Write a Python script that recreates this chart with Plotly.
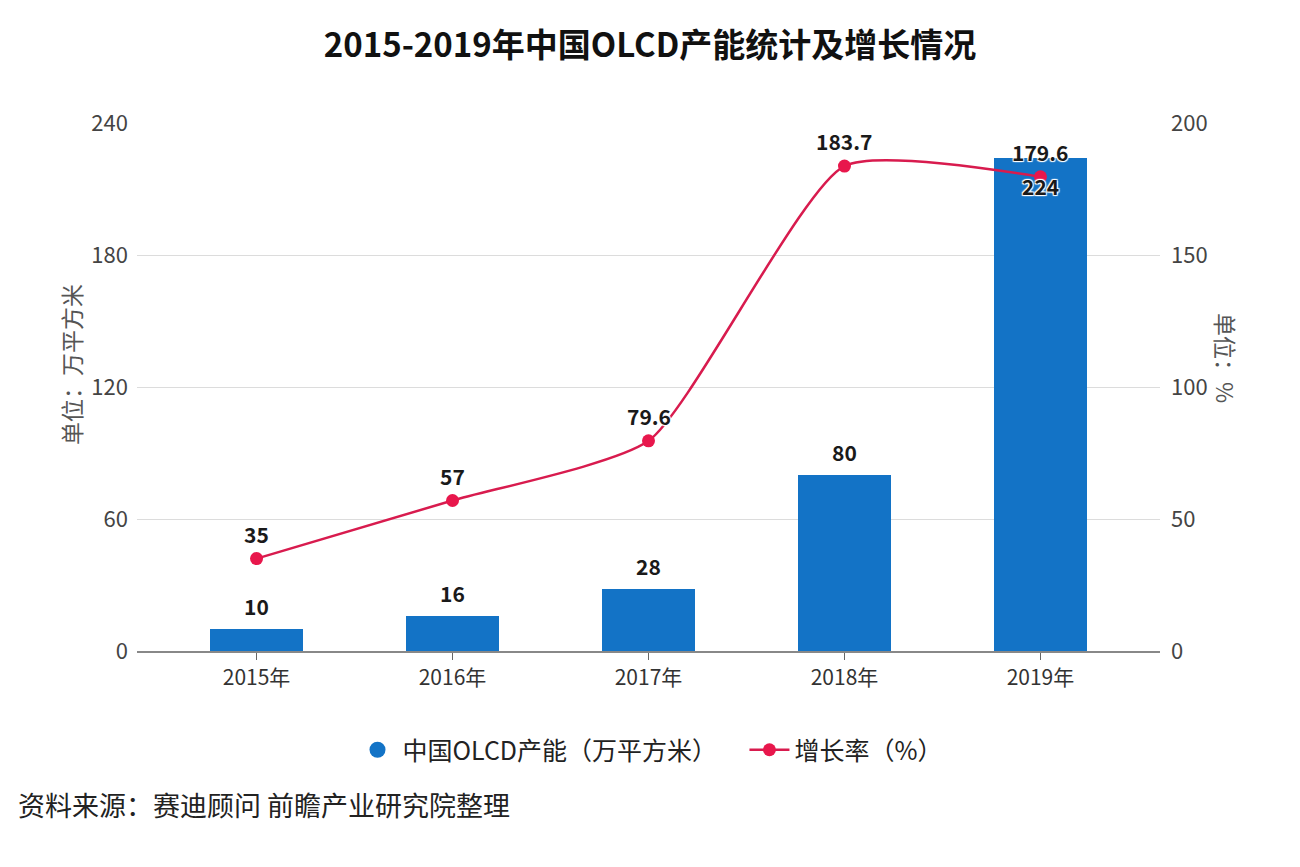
import plotly.graph_objects as go

years = ["2015年", "2016年", "2017年", "2018年", "2019年"]
capacity = [10, 16, 28, 80, 224]
growth = [35, 57, 79.6, 183.7, 179.6]
capacity_labels = ["10", "16", "28", "80", "224"]
growth_labels = ["35", "57", "79.6", "183.7", "179.6"]

BLUE = "#1373C6"
RED = "#D81B4E"
FONT = "Noto Sans CJK SC"
HALO = "1px 1px 1px #fff, -1px -1px 1px #fff, 1px -1px 1px #fff, -1px 1px 1px #fff"

# page body adds an 8px margin; work in page pixels and shift by 8
OFF = 8
W, H = 1300 - OFF, 867 - OFF
L, R, T, B = 137 - OFF, 140, 123 - OFF, 216
pw, ph = W - L - R, H - T - B


def px(x):
    return (x - OFF - L) / pw


def py(y):
    return (H - B - (y - OFF)) / ph


fig = go.Figure()
fig.add_trace(go.Bar(
    x=years, y=capacity, name="中国OLCD产能（万平方米）",
    marker=dict(color=BLUE, line=dict(width=0)), width=0.475,
    yaxis="y", showlegend=False,
))
fig.add_trace(go.Scatter(
    x=[None], y=[None], name="中国OLCD产能（万平方米）    ", mode="markers",
    marker=dict(color=BLUE, size=21, symbol="circle"), yaxis="y",
))
fig.add_trace(go.Scatter(
    x=years, y=growth, name="增长率（%）", yaxis="y2",
    mode="lines+markers",
    line=dict(color=RED, width=2.5, shape="spline", smoothing=0.55),
    marker=dict(color="#E8174C", size=13, symbol="circle"),
))

annotations = []
for i, (x, v, t) in enumerate(zip(years, capacity, capacity_labels)):
    shift = 23 if i < len(years) - 1 else -28
    annotations.append(dict(
        x=x, y=v, xref="x", yref="y", text=t, showarrow=False, yshift=shift,
        font=dict(family=FONT, size=21, color="#1a1a1a", weight="bold", shadow=HALO),
    ))
for x, v, t in zip(years, growth, growth_labels):
    annotations.append(dict(
        x=x, y=v, xref="x", yref="y2", text=t, showarrow=False, yshift=25,
        font=dict(family=FONT, size=21, color="#1a1a1a", weight="bold", shadow=HALO),
    ))

annotations += [
    dict(text="单位：万平方米", x=px(52), y=py(365), xref="paper", yref="paper", showarrow=False,
         textangle=-90, font=dict(family=FONT, size=23, color="#555")),
    dict(text="单位：%", x=px(1245), y=py(358), xref="paper", yref="paper", showarrow=False,
         textangle=90, font=dict(family=FONT, size=23, color="#555")),
    dict(text="资料来源：赛迪顾问 前瞻产业研究院整理", x=px(16), y=py(826), xref="paper", yref="paper",
         showarrow=False, xanchor="left", font=dict(family=FONT, size=27, color="#222")),
]

fig.update_layout(
    width=W, height=H,
    margin=dict(l=L, r=R, t=T, b=B, autoexpand=False),
    paper_bgcolor="white", plot_bgcolor="white",
    title=dict(text="<b>2015-2019年中国OLCD产能统计及增长情况</b>", x=px(650), xanchor="center",
               xref="paper", y=1 - (45 - OFF) / H, yanchor="middle",
               font=dict(family=FONT, size=33, color="#111")),
    font=dict(family=FONT, color="#333"),
    bargap=0,
    xaxis=dict(
        range=[-0.61, 4.61], showgrid=False, showline=True, linecolor="#888", linewidth=1.5,
        ticks="outside", ticklen=7, tickcolor="#666", tickwidth=1,
        tickfont=dict(family=FONT, size=21, color="#333"), zeroline=False,
    ),
    yaxis=dict(
        range=[0, 240], tickvals=[0, 60, 120, 180, 240], showgrid=True, gridcolor="#dcdcdc",
        gridwidth=1, zeroline=False, showline=False, ticks="",
        ticklabelstandoff=8,
        tickfont=dict(family=FONT, size=22, color="#444"),
    ),
    yaxis2=dict(
        range=[0, 200], tickvals=[0, 50, 100, 150, 200], overlaying="y", side="right",
        showgrid=False, zeroline=False, showline=False, ticks="", ticklabelstandoff=10,
        tickfont=dict(family=FONT, size=22, color="#444"),
    ),
    legend=dict(
        orientation="h", x=px(650), xanchor="center", y=py(750), yanchor="middle",
        font=dict(family=FONT, size=25, color="#222"), itemwidth=40,
        traceorder="normal", bgcolor="rgba(0,0,0,0)",
    ),
    annotations=annotations,
    showlegend=True,
)

fig.write_html("out.html")
